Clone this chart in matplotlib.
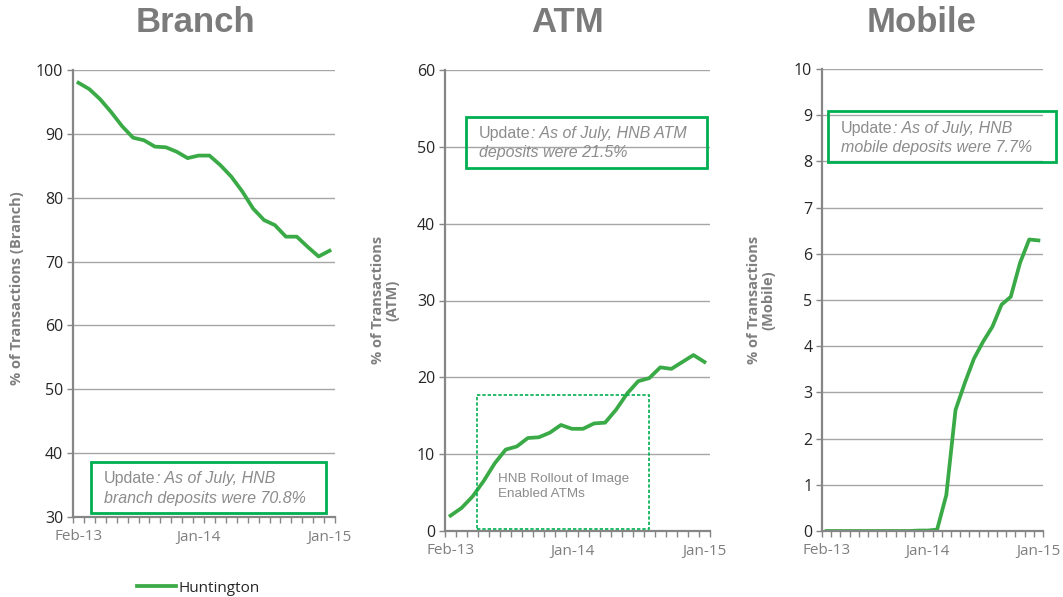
import numpy as np
import matplotlib.pyplot as plt
from matplotlib.patches import Rectangle
from matplotlib.text import Annotation
from matplotlib.ticker import FixedLocator, MultipleLocator

# monthly series, Feb-13 .. Jan-15
months = ["Feb-13", "Mar-13", "Apr-13", "May-13", "Jun-13", "Jul-13", "Aug-13", "Sep-13",
          "Oct-13", "Nov-13", "Dec-13", "Jan-14", "Feb-14", "Mar-14", "Apr-14", "May-14",
          "Jun-14", "Jul-14", "Aug-14", "Sep-14", "Oct-14", "Nov-14", "Dec-14", "Jan-15"]
shown_months = ["Feb-13", "Jan-14", "Jan-15"]

branch = [98.0, 97.0, 95.4, 93.4, 91.2, 89.4, 89.0, 88.0, 87.9, 87.2, 86.2, 86.6,
          86.6, 85.1, 83.3, 81.0, 78.3, 76.5, 75.7, 73.9, 73.9, 72.3, 70.8, 71.7]
atm = [2.0, 3.0, 4.5, 6.5, 8.8, 10.6, 11.0, 12.1, 12.2, 12.8, 13.8, 13.3,
       13.3, 14.0, 14.1, 15.8, 17.9, 19.5, 19.9, 21.3, 21.1, 22.0, 22.9, 22.0]
mobile = [0.0, 0.0, 0.0, 0.0, 0.0, 0.0, 0.0, 0.0, 0.0, 0.0, 0.01, 0.01,
          0.03, 0.78, 2.62, 3.2, 3.73, 4.1, 4.42, 4.9, 5.07, 5.8, 6.31, 6.29]

GREEN = "#3aaa47"
BOX_GREEN = "#00b050"
GRID = "#a6a6a6"
SPINE = "#868686"
TITLE_GRAY = "#7b7b7b"
NOTE_GRAY = "#8c8c8c"
TICK_DARK = "#262626"
TICK_GRAY = "#7f7f7f"

W, H = 1063, 597
fig = plt.figure(figsize=(W / 100, H / 100), dpi=100)


def px_box(left, top, right, bottom):
    """pixel edges -> figure-fraction [x, y, w, h]"""
    return [left / W, 1 - bottom / H, (right - left) / W, (bottom - top) / H]


def style_axis(ax, ymin, ymax, ystep):
    x = np.arange(len(months))
    ax.set_xlim(-0.5, len(months) - 0.5)
    ax.set_ylim(ymin, ymax)
    ax.yaxis.set_major_locator(MultipleLocator(ystep))
    ax.xaxis.set_major_locator(FixedLocator([months.index(m) for m in shown_months]))
    ax.set_xticklabels(shown_months)
    ax.xaxis.set_minor_locator(FixedLocator(np.arange(-0.5, len(months), 1.0)))
    ax.tick_params(axis="x", which="major", length=0, pad=9, labelsize=11,
                   labelcolor=TICK_GRAY)
    ax.tick_params(axis="x", which="minor", length=4, width=1.0, color=SPINE, direction="out")
    ax.tick_params(axis="y", length=4, width=1.0, color=SPINE, labelsize=11.5,
                   labelcolor=TICK_DARK, pad=3)
    for lab in ax.get_xticklabels() + ax.get_yticklabels():
        lab.set_fontfamily("Open Sans")
    ax.grid(axis="y", color=GRID, linewidth=1.0)
    ax.set_axisbelow(True)
    for side in ("top", "right"):
        ax.spines[side].set_visible(False)
    for side in ("left", "bottom"):
        ax.spines[side].set_color(SPINE)
        ax.spines[side].set_linewidth(1.6)
    return x


def update_box(left, top, right, bottom, first_rest, second_line):
    """Green framed note: 'Update' upright, the rest in italics."""
    fig.patches.append(Rectangle((left / W, 1 - bottom / H), (right - left) / W,
                                 (bottom - top) / H, transform=fig.transFigure,
                                 fill=False, edgecolor=BOX_GREEN, linewidth=2.0, zorder=5))
    tx = (left + 13) / W
    ty1 = 1 - (top + 17) / H
    ty2 = 1 - (top + 36) / H
    t1 = fig.text(tx, ty1, "Update", fontsize=11.5, color=NOTE_GRAY,
                  family="Liberation Sans", va="center", zorder=6)
    fig.add_artist(Annotation(first_rest, xy=(1, 0.5), xycoords=t1, va="center", ha="left",
                              fontsize=11.5, color=NOTE_GRAY, style="italic",
                              family="Liberation Sans", zorder=6))
    fig.text(tx, ty2, second_line, fontsize=11.5, color=NOTE_GRAY, style="italic",
             family="Liberation Sans", va="center", zorder=6)


# Branch
ax1 = fig.add_axes(px_box(73, 70, 335, 517))
x = style_axis(ax1, 30, 100, 10)
line, = ax1.plot(x, branch, color=GREEN, linewidth=2.7, solid_joinstyle="round",
                 label="Huntington")

# ATM
ax2 = fig.add_axes(px_box(445, 70, 710, 531))
x = style_axis(ax2, 0, 60, 10)
ax2.plot(x, atm, color=GREEN, linewidth=2.7, solid_joinstyle="round")
ax2.add_patch(Rectangle((2.4, 0.3), 15.6, 17.4, fill=False, edgecolor=BOX_GREEN,
                        linestyle=(0, (2, 1.2)), linewidth=1.2, zorder=4))
ax2.text(4.3, 5.8, "HNB Rollout of Image\nEnabled ATMs", fontsize=9.7,
         color=NOTE_GRAY, family="Liberation Sans", va="center", ha="left",
         linespacing=1.4)

# Mobile
ax3 = fig.add_axes(px_box(822, 69, 1043, 531))
x = style_axis(ax3, 0, 10, 1)
ax3.plot(x, mobile, color=GREEN, linewidth=2.7, solid_joinstyle="round")

# panel titles
for cx, name in [(195, "Branch"), (568, "ATM"), (922, "Mobile")]:
    fig.text(cx / W, 1 - 23 / H, name, fontsize=25, fontweight="bold",
             color=TITLE_GRAY, family="Liberation Sans", ha="center", va="center")

# axis titles
for cx, cy, label in [(17, 288, "% of Transactions (Branch)"),
                      (385, 300, "% of Transactions\n(ATM)"),
                      (761, 300, "% of Transactions\n(Mobile)")]:
    fig.text(cx / W, 1 - cy / H, label, rotation=90, fontsize=10.5, fontweight="bold",
             color=TICK_GRAY, family="Open Sans", ha="center", va="center",
             multialignment="center", linespacing=1.05)

update_box(91, 462, 326, 513, ": As of July, HNB", "branch deposits were 70.8%")
update_box(466, 117, 707, 168, ": As of July, HNB ATM", "deposits were 21.5%")
update_box(828, 111, 1056, 162, ": As of July, HNB", "mobile deposits were 7.7%")

leg = fig.legend(handles=[line], loc="center", bbox_to_anchor=(198 / W, 1 - 588 / H),
                 frameon=False, handlelength=2.6, handletextpad=0.1,
                 prop={"family": "Open Sans", "size": 11})
for t in leg.get_texts():
    t.set_color(TICK_DARK)

fig.savefig("out.png", dpi=100)
